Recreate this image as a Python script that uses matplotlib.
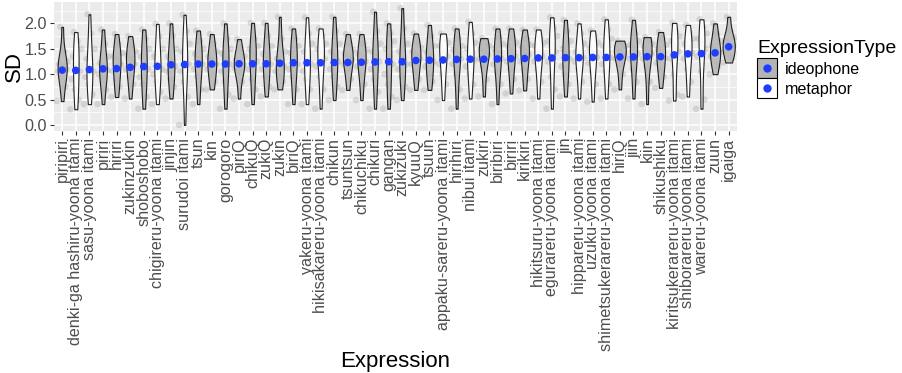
import numpy as np
import matplotlib.pyplot as plt
from matplotlib import cbook, mlab
from matplotlib.lines import Line2D
from matplotlib.legend_handler import HandlerTuple

plt.rcParams['font.family'] = ['Liberation Sans', 'DejaVu Sans']

expressions = [
    'piripiri', 'denki-ga hashiru-yoona itami', 'sasu-yoona itami', 'piriri', 'hiriri',
    'zukinzukin', 'shoboshobo', 'chigireru-yoona itami', 'jinjin', 'surudoi itami',
    'tsun', 'kin', 'gorogoro', 'piriQ', 'chikuQ',
    'zukiQ', 'zukin', 'biriQ', 'yakeru-yoona itami', 'hikisakareru-yoona itami',
    'chikun', 'tsuntsun', 'chikuchiku', 'chikuri', 'gangan',
    'zukizuki', 'kyuuQ', 'tsuun', 'appaku-sareru-yoona itami', 'hirihiri',
    'nibui itami', 'zukiri', 'biribiri', 'biriri', 'kirikiri',
    'hikitsuru-yoona itami', 'egurareru-yoona itami', 'jin', 'hippareru-yoona itami', 'uzuku-yoona itami',
    'shimetsukerareru-yoona itami', 'hiriQ', 'jiin', 'kiin', 'shikushiku',
    'kiritsukerareru-yoona itami', 'shiborareru-yoona itami', 'wareru-yoona itami', 'zuun', 'igaiga',
]

I, M = 'ideophone', 'metaphor'
expression_type = [
    I, M, M, I, I, I, I, M, I, M,
    I, I, I, I, I, I, I, I, M, M,
    I, I, I, I, I, I, I, I, M, I,
    M, I, I, I, I, M, M, I, M, M,
    M, I, I, I, I, M, M, M, I, I,
]

# mean SD per expression (blue dots)
mean_sd = [
    1.08, 1.075, 1.09, 1.105, 1.11, 1.135, 1.15, 1.155, 1.185, 1.19,
    1.20, 1.20, 1.20, 1.205, 1.205, 1.205, 1.215, 1.225, 1.225, 1.225,
    1.23, 1.23, 1.235, 1.24, 1.245, 1.245, 1.27, 1.275, 1.28, 1.29,
    1.295, 1.295, 1.30, 1.305, 1.31, 1.32, 1.32, 1.325, 1.325, 1.33,
    1.33, 1.34, 1.34, 1.345, 1.345, 1.38, 1.40, 1.405, 1.42, 1.54,
]

# individual SD values (estimated from the grey points / violin outlines)
sd_values = [
    [0.47, 0.75, 0.95, 1.05, 1.10, 1.15, 1.20, 1.25, 1.45, 1.93],
    [0.31, 0.50, 0.70, 0.90, 1.05, 1.20, 1.35, 1.50, 1.65, 1.83],
    [0.41, 0.60, 0.80, 0.95, 1.05, 1.15, 1.30, 1.50, 1.80, 2.18],
    [0.41, 0.70, 0.90, 1.00, 1.08, 1.15, 1.22, 1.35, 1.60, 1.88],
    [0.55, 0.75, 0.90, 1.05, 1.20, 1.28, 1.35, 1.42, 1.60, 1.79],
    [0.52, 0.80, 0.95, 1.10, 1.20, 1.30, 1.38, 1.45, 1.55, 1.75],
    [0.32, 0.55, 0.80, 0.95, 1.10, 1.20, 1.35, 1.50, 1.70, 1.88],
    [0.41, 0.65, 0.85, 1.00, 1.10, 1.20, 1.35, 1.50, 1.75, 1.99],
    [0.52, 0.75, 0.90, 1.05, 1.15, 1.25, 1.35, 1.50, 1.75, 2.00],
    [0.00, 0.55, 0.85, 1.05, 1.20, 1.30, 1.45, 1.60, 1.85, 2.17],
    [0.41, 0.70, 0.95, 1.10, 1.20, 1.30, 1.40, 1.50, 1.65, 1.86],
    [0.70, 0.85, 1.00, 1.10, 1.20, 1.28, 1.35, 1.45, 1.60, 1.79],
    [0.32, 0.60, 0.85, 1.05, 1.20, 1.30, 1.40, 1.50, 1.70, 2.00],
    [0.52, 0.85, 1.05, 1.12, 1.18, 1.22, 1.27, 1.35, 1.50, 1.69],
    [0.41, 0.70, 0.90, 1.10, 1.25, 1.40, 1.50, 1.55, 1.70, 2.01],
    [0.56, 0.75, 0.95, 1.10, 1.20, 1.30, 1.40, 1.55, 1.75, 2.01],
    [0.70, 0.85, 0.95, 1.05, 1.15, 1.22, 1.30, 1.45, 1.70, 2.13],
    [0.41, 0.70, 0.95, 1.10, 1.20, 1.30, 1.42, 1.55, 1.70, 1.90],
    [0.41, 0.70, 0.90, 1.05, 1.20, 1.30, 1.45, 1.60, 1.80, 2.12],
    [0.32, 0.70, 0.95, 1.15, 1.30, 1.40, 1.50, 1.60, 1.75, 1.90],
    [0.49, 0.75, 0.95, 1.10, 1.25, 1.35, 1.45, 1.60, 1.85, 2.13],
    [0.69, 0.90, 1.10, 1.20, 1.28, 1.33, 1.40, 1.48, 1.60, 1.79],
    [0.49, 0.80, 1.00, 1.15, 1.25, 1.33, 1.40, 1.48, 1.60, 1.79],
    [0.32, 0.65, 0.90, 1.10, 1.25, 1.35, 1.45, 1.60, 1.85, 2.23],
    [0.32, 0.55, 0.80, 1.00, 1.20, 1.35, 1.50, 1.65, 1.80, 2.00],
    [0.49, 0.75, 0.95, 1.10, 1.20, 1.30, 1.45, 1.60, 1.90, 2.30],
    [0.69, 0.90, 1.05, 1.20, 1.30, 1.38, 1.45, 1.52, 1.62, 1.80],
    [0.69, 0.85, 1.00, 1.15, 1.25, 1.35, 1.45, 1.55, 1.75, 1.97],
    [0.49, 0.80, 1.00, 1.20, 1.35, 1.45, 1.55, 1.62, 1.70, 1.80],
    [0.32, 0.70, 1.00, 1.20, 1.30, 1.40, 1.48, 1.55, 1.70, 1.90],
    [0.52, 0.80, 1.00, 1.15, 1.28, 1.38, 1.50, 1.62, 1.80, 2.03],
    [0.56, 0.90, 1.15, 1.30, 1.38, 1.45, 1.50, 1.55, 1.62, 1.71],
    [0.41, 0.80, 1.05, 1.20, 1.30, 1.40, 1.50, 1.60, 1.72, 1.90],
    [0.62, 0.90, 1.10, 1.25, 1.35, 1.45, 1.55, 1.62, 1.72, 1.90],
    [0.68, 0.90, 1.10, 1.25, 1.38, 1.45, 1.52, 1.58, 1.70, 1.88],
    [0.52, 0.85, 1.10, 1.25, 1.35, 1.45, 1.55, 1.62, 1.72, 1.88],
    [0.32, 0.70, 0.95, 1.25, 1.45, 1.55, 1.65, 1.75, 1.90, 2.12],
    [0.56, 0.80, 1.00, 1.15, 1.30, 1.40, 1.50, 1.65, 1.85, 2.07],
    [0.52, 0.85, 1.10, 1.25, 1.32, 1.38, 1.45, 1.60, 1.80, 2.00],
    [0.46, 0.80, 1.05, 1.22, 1.33, 1.42, 1.52, 1.62, 1.75, 1.86],
    [0.52, 0.80, 1.05, 1.20, 1.32, 1.42, 1.55, 1.70, 1.88, 2.08],
    [0.70, 1.00, 1.20, 1.30, 1.38, 1.45, 1.50, 1.55, 1.60, 1.66],
    [0.52, 0.85, 1.10, 1.30, 1.40, 1.50, 1.58, 1.65, 1.80, 2.07],
    [0.41, 0.85, 1.15, 1.30, 1.40, 1.48, 1.55, 1.60, 1.66, 1.73],
    [0.73, 0.95, 1.10, 1.22, 1.32, 1.42, 1.50, 1.58, 1.70, 1.83],
    [0.48, 0.60, 1.00, 1.30, 1.45, 1.55, 1.65, 1.75, 1.85, 2.01],
    [0.56, 0.85, 1.10, 1.30, 1.42, 1.52, 1.60, 1.70, 1.82, 1.97],
    [0.32, 0.50, 1.05, 1.35, 1.50, 1.60, 1.70, 1.80, 1.92, 2.08],
    [1.00, 1.15, 1.25, 1.35, 1.42, 1.48, 1.55, 1.65, 1.80, 2.00],
    [1.23, 1.32, 1.40, 1.48, 1.55, 1.60, 1.65, 1.72, 1.85, 2.13],
]

fill_colors = {I: '#b4b4b4', M: '#ffffff'}
dot_color = '#1f3dff'

fig = plt.figure(figsize=(9.02, 3.73), dpi=100)
ax = fig.add_axes([0.0599, 0.6493, 0.757, 0.3445])
ax.set_facecolor('#ebebeb')

pos = np.arange(1, len(expressions) + 1)

# jittered points behind the violins
for p, vals in zip(pos, sd_values):
    n = len(vals)
    offs = ((np.arange(n) * 7) % n) / (n - 1) - 0.5
    ax.scatter(p + offs * 0.8, vals, s=22, color='#9a9a9a', alpha=0.3,
               edgecolors='none', zorder=2)


def kde(X, coords):
    return mlab.GaussianKDE(X, 'scott').evaluate(coords)


stats = cbook.violin_stats(sd_values, kde, points=200)
peaks = np.array([s['vals'].max() for s in stats])
widths = 0.9 * peaks / peaks.max()

parts = ax.violin(stats, positions=pos, widths=widths,
                  showmeans=False, showextrema=False, showmedians=False)
for body, t in zip(parts['bodies'], expression_type):
    body.set_facecolor(fill_colors[t])
    body.set_edgecolor('black')
    body.set_linewidth(0.8)
    body.set_alpha(0.85)
    body.set_zorder(3)

ax.scatter(pos, mean_sd, s=30, color=dot_color, edgecolors='none', zorder=4)

ax.set_xlim(0.4, len(expressions) + 0.6)
ax.set_ylim(-0.115, 2.415)
ax.set_yticks([0.0, 0.5, 1.0, 1.5, 2.0])
ax.set_yticks([0.25, 0.75, 1.25, 1.75, 2.25], minor=True)
ax.set_xticks(pos)
ax.set_xticklabels(expressions, rotation=90, fontsize=11.6, color='#4d4d4d')
ax.tick_params(axis='y', labelsize=11.6, labelcolor='#4d4d4d')
ax.tick_params(axis='both', which='major', length=3, width=0.8, color='#333333', pad=2)
ax.tick_params(axis='y', which='minor', length=0)
ax.grid(True, which='major', color='white', linewidth=1.1)
ax.grid(True, which='minor', axis='y', color='white', linewidth=0.5)
ax.set_axisbelow(True)
for s in ax.spines.values():
    s.set_visible(False)

ax.set_xlabel('Expression', fontsize=16, labelpad=0)
ax.set_ylabel('SD', fontsize=16, labelpad=0)

handles = [
    (Line2D([], [], marker='s', ls='', ms=14, mfc=fill_colors[I], mec='black', mew=0.8),
     Line2D([], [], marker='o', ls='', color=dot_color, ms=5)),
    (Line2D([], [], marker='s', ls='', ms=14, mfc=fill_colors[M], mec='black', mew=0.8),
     Line2D([], [], marker='o', ls='', color=dot_color, ms=5)),
]
fig.legend(handles, [I, M], handler_map={tuple: HandlerTuple(ndivide=1)},
           loc='upper left', bbox_to_anchor=(0.833, 0.91), frameon=False,
           title='ExpressionType', title_fontsize=14, fontsize=11.6,
           alignment='left', handlelength=1.2, handleheight=1.1,
           handletextpad=0.5, labelspacing=0.25, borderaxespad=0)

fig.savefig('out.png', dpi=100)
